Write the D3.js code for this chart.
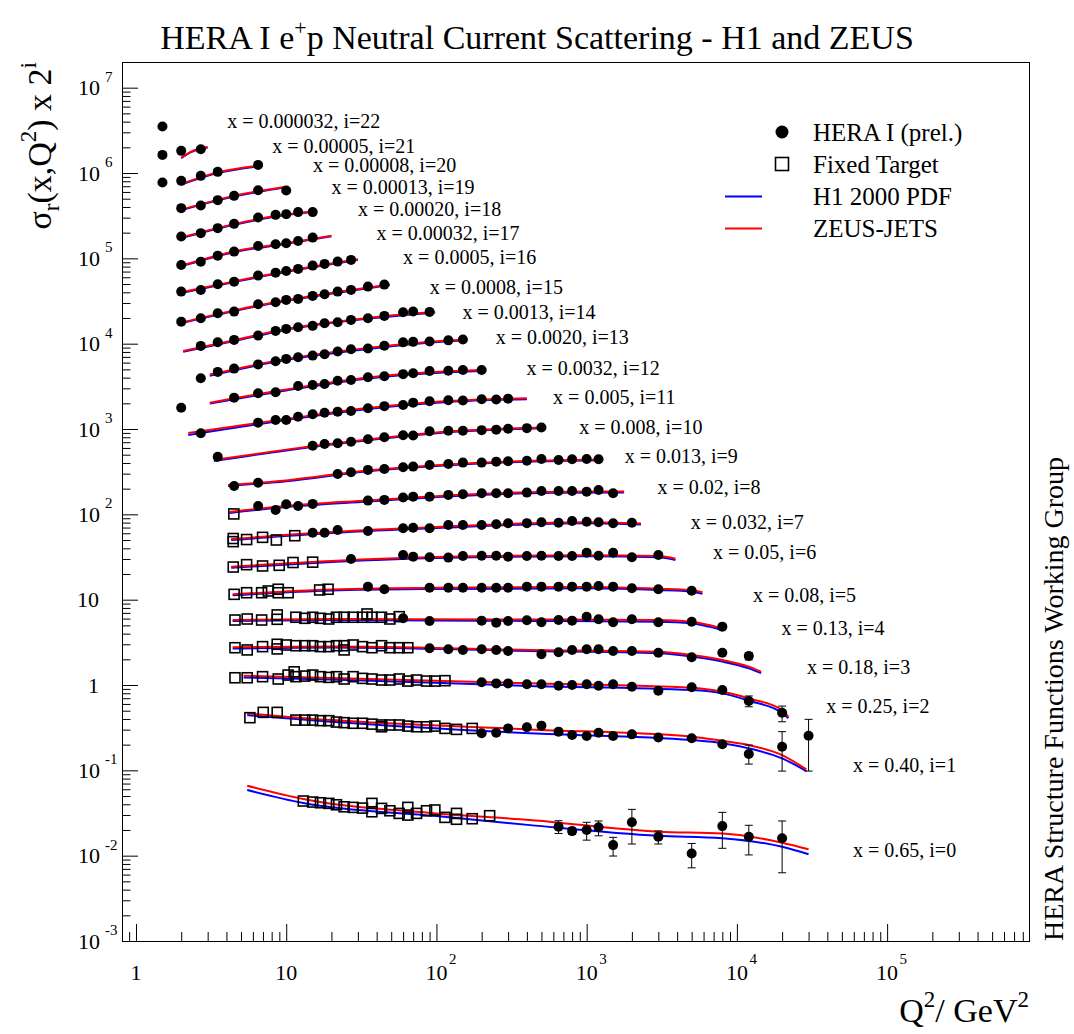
<!DOCTYPE html>
<html><head><meta charset="utf-8">
<script src="https://cdn.jsdelivr.net/npm/d3@7"></script>
<style>
body{margin:0;background:#fff}
svg{display:block}
text{font-family:"Liberation Serif","Times New Roman",serif;fill:#000}
</style>
</head><body>
<svg id="c" width="1074" height="1034"></svg>
<script>
// ---------------- data ----------------
const binX = ["0.65","0.40","0.25","0.18","0.13","0.08","0.05","0.032","0.02","0.013","0.008","0.005","0.0032","0.0020","0.0013","0.0008","0.0005","0.00032","0.00020","0.00013","0.00008","0.00005","0.000032"];

// HERA I (prel.) points per bin i: [Q2, sigma_r]  (plotted as sigma_r * 2^i)
const heraPts = [
 [[650,0.0218],[800,0.0194],[1000,0.0200],[1200,0.0215],[1500,0.0133],[2000,0.0246],[3000,0.0167],[5000,0.0106],[8000,0.0222],[12000,0.0167],[20000,0.0160]],
 [[200,0.136],[250,0.138],[300,0.155],[400,0.160],[500,0.167],[650,0.142],[800,0.130],[1000,0.126],[1200,0.138],[1500,0.126],[2000,0.132],[3000,0.121],[5000,0.119],[8000,0.101],[12000,0.0776],[20000,0.0945],[30000,0.127]],
 [[200,0.269],[250,0.261],[300,0.261],[400,0.255],[500,0.255],[650,0.245],[800,0.250],[1000,0.255],[1200,0.245],[1500,0.255],[2000,0.238],[3000,0.214],[5000,0.235],[8000,0.218],[12000,0.162],[20000,0.118]],
 [[90,0.337],[120,0.328],[150,0.322],[200,0.328],[250,0.322],[300,0.313],[500,0.286],[650,0.303],[800,0.322],[1000,0.328],[1200,0.328],[1500,0.313],[2000,0.313],[3000,0.299],[5000,0.264],[8000,0.299],[12000,0.274]],
 [[60,0.378],[90,0.352],[200,0.355],[250,0.336],[300,0.352],[400,0.358],[500,0.340],[650,0.361],[800,0.355],[1000,0.395],[1200,0.368],[1500,0.340],[2000,0.368],[3000,0.340],[5000,0.345],[8000,0.302]],
 [[35,0.444],[45,0.414],[90,0.432],[120,0.432],[150,0.432],[200,0.432],[250,0.432],[300,0.432],[400,0.444],[500,0.444],[650,0.444],[800,0.444],[1000,0.444],[1200,0.452],[1500,0.444],[2000,0.425],[3000,0.414],[5000,0.398]],
 [[27,0.468],[60,0.522],[70,0.499],[90,0.490],[120,0.486],[150,0.508],[200,0.512],[250,0.512],[300,0.499],[400,0.508],[500,0.512],[650,0.508],[800,0.508],[1000,0.555],[1200,0.512],[1500,0.555],[2000,0.490],[3000,0.522]],
 [[15,0.476],[18,0.476],[22,0.512],[35,0.498],[60,0.536],[70,0.545],[90,0.536],[120,0.586],[150,0.586],[200,0.586],[250,0.597],[300,0.614],[400,0.616],[500,0.630],[650,0.624],[800,0.653],[1000,0.641],[1200,0.630],[1500,0.614],[2000,0.624]],
 [[6.5,0.490],[8.5,0.440],[10,0.513],[12,0.490],[15,0.518],[35,0.566],[45,0.577],[60,0.614],[70,0.630],[90,0.630],[120,0.660],[150,0.673],[200,0.691],[250,0.691],[300,0.691],[400,0.702],[500,0.735],[650,0.735],[800,0.735],[1000,0.721],[1200,0.755],[1500,0.691]],
 [[4.5,0.420],[6.5,0.459],[22,0.581],[27,0.609],[35,0.648],[45,0.665],[60,0.696],[70,0.708],[90,0.741],[120,0.761],[150,0.789],[200,0.789],[250,0.810],[300,0.819],[400,0.830],[500,0.871],[650,0.848],[800,0.864],[1000,0.871],[1200,0.864]],
 [[3.5,0.463],[15,0.623],[18,0.653],[22,0.665],[27,0.694],[35,0.741],[45,0.782],[60,0.825],[70,0.821],[90,0.920],[120,0.932],[150,0.932],[200,0.947],[250,0.960],[300,0.984],[400,1.000],[500,1.019]],
 [[2.7,0.435],[6.5,0.580],[8.5,0.623],[10,0.623],[12,0.681],[15,0.727],[18,0.759],[22,0.780],[27,0.795],[35,0.855],[45,0.905],[60,0.935],[70,0.995],[90,1.033],[120,1.061],[150,1.055],[200,1.090],[250,1.084],[300,1.108]],
 [[2,0.434],[4.5,0.569],[6.5,0.641],[8.5,0.658],[12,0.780],[15,0.801],[18,0.823],[22,0.900],[27,0.917],[35,0.987],[45,1.014],[60,1.073],[70,1.099],[90,1.169],[120,1.176],[150,1.201],[200,1.201]],
 [[2.7,0.481],[3.5,0.570],[4.5,0.623],[6.5,0.698],[8.5,0.761],[10,0.810],[12,0.848],[15,0.885],[18,0.920],[22,0.987],[27,1.052],[35,1.070],[45,1.157],[60,1.265],[70,1.282],[90,1.292],[120,1.335],[150,1.364]],
 [[2.7,0.575],[3.5,0.635],[4.5,0.676],[6.5,0.759],[8.5,0.862],[10,0.910],[12,0.953],[15,0.987],[18,1.061],[22,1.090],[27,1.160],[35,1.215],[45,1.292],[60,1.428],[70,1.451],[90,1.439]],
 [[2,0.553],[2.7,0.607],[3.5,0.694],[4.5,0.725],[6.5,0.885],[8.5,0.935],[10,0.995],[12,1.022],[15,1.108],[18,1.160],[22,1.244],[27,1.303],[35,1.424],[45,1.503]],
 [[2,0.622],[2.7,0.651],[3.5,0.759],[4.5,0.814],[6.5,0.958],[8.5,1.038],[10,1.087],[12,1.148],[15,1.254],[18,1.314],[22,1.397],[27,1.463]],
 [[2,0.639],[2.7,0.698],[3.5,0.821],[4.5,0.915],[6.5,1.067],[8.5,1.117],[10,1.148],[12,1.221],[15,1.335]],
 [[2,0.687],[2.7,0.753],[3.5,0.862],[4.5,0.968],[6.5,1.148],[8.5,1.234],[10,1.258],[12,1.328],[15,1.328]],
 [[2,0.739],[2.7,0.793],[3.5,0.917],[4.5,1.030],[6.5,1.200],[10,1.190]],
 [[1.5,0.737],[2,0.772],[2.7,0.883],[3.5,0.984],[6.5,1.188]],
 [[1.5,0.778],[2,0.867],[2.7,0.907]],
 [[1.5,0.835]]
];

// HERA error bars: [bin, Q2, low, high]
const heraErr = [
 [0,650,0.0182,0.0257],[0,800,0.0178,0.0211],[0,1000,0.0152,0.0246],[0,1200,0.0171,0.0255],
 [0,1500,0.0099,0.0164],[0,2000,0.0137,0.0349],[0,3000,0.0137,0.0195],[0,5000,0.0072,0.0139],
 [0,8000,0.0122,0.0322],[0,12000,0.0102,0.0227],[0,20000,0.0063,0.0255],
 [1,12000,0.0592,0.0989],[1,20000,0.049,0.142],[1,30000,0.049,0.198],
 [2,12000,0.139,0.186],[2,20000,0.0927,0.1415],
 [3,12000,0.246,0.299]
];

// Fixed target points per bin: [Q2, sigma_r]
const ftPts = [
 [[13.0,0.0437],[15.0,0.0425],[16.9,0.0417],[19.2,0.0410],[21.6,0.0395],[24.3,0.0374],[27.9,0.0368],[32.2,0.0361],[37.2,0.0410],[37.2,0.0327],[43.1,0.0358],[49.0,0.0336],[56.5,0.0313],[64.5,0.0368],[64.5,0.0299],[73.7,0.0313],[85.9,0.0336],[97.6,0.0343],[114,0.0281],[136,0.0313],[136,0.0267],[173,0.0271],[226,0.0294]],
 [[5.73,0.207],[7.03,0.239],[8.71,0.239],[11.6,0.194],[13.3,0.194],[15.0,0.194],[16.9,0.191],[19.2,0.191],[21.6,0.184],[24.3,0.181],[27.9,0.178],[32.2,0.178],[37.2,0.174],[43.1,0.170],[43.1,0.162],[49.0,0.170],[56.5,0.170],[64.5,0.165],[73.7,0.162],[85.9,0.162],[97.6,0.165],[114,0.155],[136,0.151],[173,0.155]],
 [[4.56,0.304],[5.5,0.304],[6.96,0.313],[8.85,0.294],[10.3,0.327],[11.3,0.357],[11.6,0.313],[13.3,0.318],[15.0,0.327],[16.9,0.313],[19.2,0.307],[21.6,0.313],[24.3,0.294],[27.9,0.313],[32.2,0.299],[37.2,0.294],[43.1,0.286],[49.0,0.286],[56.5,0.294],[64.5,0.278],[73.7,0.286],[85.9,0.278],[97.6,0.278],[114,0.281]],
 [[4.56,0.342],[5.5,0.322],[6.96,0.352],[8.71,0.375],[8.71,0.331],[10.0,0.368],[11.6,0.361],[13.3,0.361],[15.0,0.361],[16.9,0.352],[19.2,0.352],[21.6,0.361],[24.3,0.361],[24.3,0.322],[27.9,0.368],[32.2,0.352],[37.2,0.342],[43.1,0.361],[49.0,0.342],[56.5,0.342],[64.5,0.342]],
 [[4.56,0.361],[5.5,0.371],[6.86,0.361],[8.71,0.414],[8.71,0.368],[11.6,0.389],[13.3,0.378],[15.0,0.389],[16.9,0.378],[19.2,0.371],[21.6,0.389],[24.3,0.389],[27.9,0.389],[32.2,0.389],[34.5,0.425],[37.2,0.389],[43.1,0.389],[49.0,0.371],[56.5,0.395]],
 [[4.5,0.361],[5.45,0.377],[6.86,0.377],[7.6,0.395],[8.85,0.414],[8.85,0.377],[10.3,0.377],[16.7,0.406],[19.0,0.414]],
 [[4.44,0.377],[5.45,0.402],[6.96,0.388],[8.98,0.395],[11.1,0.426],[15.0,0.430]],
 [[4.44,0.407],[4.44,0.374],[5.45,0.396],[6.96,0.420],[8.6,0.391],[11.4,0.439]],
 [[4.48,0.395]],
 [],[],[],[],[],[],[],[],[],[],[],[],[],[]
];

// Theory curves per bin: [Q2, sigma_r]
const h1Curve = [
 [[5.5,0.0588],[13,0.0414],[100,0.0291],[420,0.0228],[3000,0.0171],[8000,0.0160],[20000,0.0127],[30000,0.0104]],
 [[5.5,0.222],[20,0.186],[420,0.136],[5000,0.113],[8000,0.104],[12000,0.0905],[20000,0.0691],[29000,0.049]],
 [[5.2,0.307],[20,0.291],[420,0.244],[5000,0.218],[8000,0.1995],[12000,0.1635],[20000,0.118],[22000,0.102]],
 [[4.4,0.335],[20,0.344],[420,0.313],[3000,0.294],[5000,0.269],[8000,0.235],[12000,0.196],[14500,0.172]],
 [[4.4,0.352],[20,0.36],[400,0.352],[3000,0.345],[5000,0.331],[6500,0.302],[7900,0.276]],
 [[4.4,0.352],[20,0.40],[100,0.417],[1000,0.425],[3000,0.406],[5000,0.388],[5900,0.367]],
 [[4.3,0.370],[20,0.432],[100,0.481],[1000,0.504],[3000,0.490],[3900,0.456]],
 [[4.3,0.391],[20,0.472],[100,0.540],[1000,0.614],[2300,0.594]],
 [[4.2,0.406],[10,0.477],[35,0.553],[120,0.633],[500,0.696],[1775,0.702]],
 [[4.1,0.420],[10,0.477],[35,0.626],[120,0.735],[400,0.808],[1250,0.841]],
 [[3.3,0.412],[10,0.548],[35,0.721],[120,0.895],[520,0.997]],
 [[2.23,0.416],[10,0.623],[35,0.839],[120,1.014],[400,1.093]],
 [[3.1,0.484],[10,0.69],[35,0.955],[120,1.13],[210,1.17]],
 [[3.1,0.515],[10,0.79],[35,1.06],[120,1.30],[160,1.34]],
 [[2.06,0.49],[4.5,0.655],[10,0.89],[35,1.20],[98,1.42]],
 [[2,0.53],[4.5,0.735],[10,0.97],[25,1.25],[49,1.49]],
 [[2,0.60],[4.5,0.805],[10,1.06],[30,1.47]],
 [[2,0.615],[4.5,0.90],[10,1.13],[20,1.38]],
 [[2,0.66],[4.5,0.945],[10,1.23],[16,1.34]],
 [[2,0.70],[4.5,1.01],[9.9,1.30]],
 [[2,0.70],[3.5,0.955],[6.5,1.14]],
 [[2,0.71],[2.3,0.83],[3.0,0.95]],
 []
];
const zeusCurve = [
 [[5.5,0.0660],[13,0.0461],[100,0.0313],[420,0.0262],[3000,0.0191],[8000,0.0182],[20000,0.0142],[30000,0.0119]],
 [[5.5,0.233],[20,0.194],[420,0.151],[5000,0.124],[8000,0.111],[12000,0.0989],[20000,0.0755],[29000,0.0513]],
 [[5.2,0.321],[20,0.302],[420,0.2615],[5000,0.232],[8000,0.208],[12000,0.174],[20000,0.127],[22000,0.106]],
 [[4.4,0.346],[20,0.353],[420,0.322],[3000,0.307],[5000,0.281],[8000,0.246],[12000,0.205],[14500,0.179]],
 [[4.4,0.361],[20,0.37],[400,0.366],[3000,0.361],[5000,0.345],[6500,0.316],[7900,0.289]],
 [[4.4,0.361],[20,0.411],[100,0.432],[1000,0.440],[3000,0.420],[5000,0.403],[5900,0.381]],
 [[4.3,0.380],[20,0.444],[100,0.494],[1000,0.518],[3000,0.508],[3900,0.472]],
 [[4.3,0.402],[20,0.485],[100,0.555],[1000,0.630],[2300,0.610]],
 [[4.2,0.417],[10,0.490],[35,0.569],[120,0.651],[500,0.716],[1775,0.725]],
 [[4.1,0.432],[10,0.488],[35,0.639],[120,0.751],[400,0.826],[1250,0.860]],
 [[3.3,0.424],[10,0.560],[35,0.737],[120,0.915],[520,1.020]],
 [[2.23,0.439],[10,0.641],[35,0.862],[120,1.041],[400,1.120]],
 [[3.1,0.497],[10,0.71],[35,0.981],[120,1.16],[210,1.201]],
 [[3.1,0.53],[10,0.81],[35,1.09],[120,1.33],[160,1.37]],
 [[2.06,0.50],[4.5,0.67],[10,0.905],[35,1.22],[98,1.44]],
 [[2,0.54],[4.5,0.75],[10,0.985],[25,1.27],[49,1.51]],
 [[2,0.61],[4.5,0.82],[10,1.08],[30,1.49]],
 [[2,0.625],[4.5,0.92],[10,1.15],[20,1.40]],
 [[2,0.67],[4.5,0.96],[10,1.25],[16,1.36]],
 [[2,0.71],[4.5,1.03],[9.9,1.32]],
 [[2,0.71],[3.5,0.97],[6.5,1.16]],
 [[2,0.72],[2.3,0.84],[3.0,0.96]],
 []
];

// bin label anchors in data coordinates: [Q2, plotted value]
const labelAnchor = [
 [59300,0.0116],[59300,0.115],[39400,0.567],[29300,1.61],[19800,4.62],[12800,11.4],[6940,35.6],[4930,80.8],
 [2960,210],[1790,474],[893,1060],[598,2350],[398,5160],[248,1.19e4],[149,2.36e4],[90.3,4.60e4],
 [60.0,1.03e5],[39.9,1.99e5],[30.1,3.80e5],[20.0,6.84e5],[15.1,1.22e6],[8.07,2.08e6],[4.05,4.02e6]
];

const xTicks = [1,10,100,1e3,1e4,1e5];
const xTickLabels = [["1",""],["10",""],["10","2"],["10","3"],["10","4"],["10","5"]];
const yTicks = [1e-3,1e-2,1e-1,1,10,1e2,1e3,1e4,1e5,1e6,1e7];
const yTickLabels = [["10","-3"],["10","-2"],["10","-1"],["1",""],["10",""],["10","2"],["10","3"],["10","4"],["10","5"],["10","6"],["10","7"]];
const legendItems = ["HERA I (prel.)","Fixed Target","H1 2000 PDF","ZEUS-JETS"];

// ---------------- drawing ----------------
const W = 1074, H = 1034;
const L = 122, R = 1029, T = 62, B = 941;
const svg = d3.select("#c");
svg.append("rect").attr("width",W).attr("height",H).attr("fill","#fff");

const x = d3.scaleLog().domain([0.807, 8.8e5]).range([L, R]);
const y = d3.scaleLog().domain([1e-3, 2.0e7]).range([B, T]);

// minor tick values
const xMinor = [], yMinor = [];
for (let e = -1; e <= 5; e++) for (let k = 2; k <= 9; k++) { const v = k * Math.pow(10, e); if (v > 0.807 && v < 8.8e5) xMinor.push(v); }
for (let e = -3; e <= 7; e++) for (let k = 2; k <= 9; k++) { const v = k * Math.pow(10, e); if (v > 1e-3 && v < 1.99e7) yMinor.push(v); }

function axisStyle(g){ g.select(".domain").remove(); g.selectAll("line").attr("stroke","#000").attr("stroke-width",1); g.selectAll("text").remove(); }
svg.append("g").attr("transform",`translate(0,${B})`).call(d3.axisBottom(x).tickValues(xTicks).tickSize(-17).tickFormat("")).call(axisStyle);
svg.append("g").attr("transform",`translate(0,${B})`).call(d3.axisBottom(x).tickValues(xMinor).tickSize(-9).tickFormat("")).call(axisStyle);
svg.append("g").attr("transform",`translate(${L},0)`).call(d3.axisLeft(y).tickValues(yTicks).tickSize(-16).tickFormat("")).call(axisStyle);
svg.append("g").attr("transform",`translate(${L},0)`).call(d3.axisLeft(y).tickValues(yMinor).tickSize(-8.5).tickFormat("")).call(axisStyle);

// frame
svg.append("rect").attr("x",L+0.5).attr("y",T+0.5).attr("width",R-L).attr("height",B-T)
  .attr("fill","none").attr("stroke","#000").attr("stroke-width",1);

// tick labels
const FS = 22, FE = 15;
xTicks.forEach((v,k)=>{
  const [b,e] = xTickLabels[k];
  const px = x(v);
  svg.append("text").attr("x",px).attr("y",980).attr("text-anchor","middle").attr("font-size",FS).text(b);
  if (e) svg.append("text").attr("x",px+12.5).attr("y",964).attr("font-size",FE).text(e);
});
yTicks.forEach((v,k)=>{
  const [b,e] = yTickLabels[k];
  const py = y(v);
  if (e) {
    svg.append("text").attr("x",100).attr("y",py+7.5).attr("text-anchor","end").attr("font-size",FS).text(b);
    svg.append("text").attr("x",105).attr("y",py-6).attr("font-size",FE).text(e);
  } else {
    svg.append("text").attr("x",99).attr("y",py+7.5).attr("text-anchor","end").attr("font-size",FS).text(b);
  }
});

// curves
const line = d3.line().x(d=>x(d[0])).y(d=>y(d[1])).curve(d3.curveMonotoneX);
const scaled = (arr,i)=>arr.map(([q,s])=>[q, s*Math.pow(2,i)]);
const gCurves = svg.append("g").attr("fill","none").attr("stroke-width",2);
h1Curve.forEach((c,i)=>{ if(c.length) gCurves.append("path").attr("d",line(scaled(c,i))).attr("stroke","#0000ff"); });
zeusCurve.forEach((c,i)=>{ if(c.length) gCurves.append("path").attr("d",line(scaled(c,i))).attr("stroke","#ff0000"); });

// fixed target squares
const gFT = svg.append("g");
ftPts.forEach((pts,i)=>{
  gFT.selectAll(null).data(scaled(pts,i)).enter().append("rect")
    .attr("x",d=>x(d[0])-5).attr("y",d=>y(d[1])-5).attr("width",10).attr("height",10)
    .attr("fill","none").attr("stroke","#000").attr("stroke-width",1.6);
});

// error bars
const gErr = svg.append("g").attr("stroke","#000").attr("stroke-width",1);
heraErr.forEach(([i,q,lo,hi])=>{
  const f = Math.pow(2,i), px = x(q);
  gErr.append("line").attr("x1",px).attr("x2",px).attr("y1",y(lo*f)).attr("y2",y(hi*f));
  gErr.append("line").attr("x1",px-4).attr("x2",px+4).attr("y1",y(lo*f)).attr("y2",y(lo*f));
  gErr.append("line").attr("x1",px-4).attr("x2",px+4).attr("y1",y(hi*f)).attr("y2",y(hi*f));
});

// HERA points
const gH = svg.append("g");
heraPts.forEach((pts,i)=>{
  gH.selectAll(null).data(scaled(pts,i)).enter().append("circle")
    .attr("cx",d=>x(d[0])).attr("cy",d=>y(d[1])).attr("r",5).attr("fill","#000");
});

// bin labels
labelAnchor.forEach(([q,v],i)=>{
  svg.append("text").attr("x",x(q)).attr("y",y(v)+6.8).attr("font-size",20)
    .text(`x = ${binX[i]}, i=${i}`);
});

// legend
const legY = [132,164,196.5,228.5];
svg.append("circle").attr("cx",782).attr("cy",legY[0]).attr("r",6.5).attr("fill","#000");
svg.append("rect").attr("x",775.5).attr("y",legY[1]-6.5).attr("width",13).attr("height",13).attr("fill","none").attr("stroke","#000").attr("stroke-width",1.6);
svg.append("line").attr("x1",725).attr("x2",762).attr("y1",legY[2]).attr("y2",legY[2]).attr("stroke","#0000ff").attr("stroke-width",2);
svg.append("line").attr("x1",725).attr("x2",762).attr("y1",legY[3]).attr("y2",legY[3]).attr("stroke","#ff0000").attr("stroke-width",2);
legendItems.forEach((t,k)=>{
  svg.append("text").attr("x",813).attr("y",legY[k]+8.5).attr("font-size",25).text(t);
});

// title
const title = svg.append("text").attr("x",537).attr("y",49).attr("text-anchor","middle").attr("font-size",34);
title.append("tspan").text("HERA I e");
title.append("tspan").attr("dy",-14).attr("font-size",22).text("+");
title.append("tspan").attr("dy",14).text("p Neutral Current Scattering - H1 and ZEUS");

// y title
const yt = svg.append("text").attr("transform",`translate(51,${T}) rotate(-90)`).attr("text-anchor","end").attr("font-size",34);
yt.append("tspan").text("σ");
yt.append("tspan").attr("dy",8).attr("font-size",23).text("r");
yt.append("tspan").attr("dy",-8).text("(x,Q");
yt.append("tspan").attr("dy",-15).attr("font-size",23).text("2");
yt.append("tspan").attr("dy",15).text(") x 2");
yt.append("tspan").attr("dy",-15).attr("font-size",23).text("i");

// x title
const xt = svg.append("text").attr("x",R).attr("y",1022).attr("text-anchor","end").attr("font-size",34);
xt.append("tspan").text("Q");
xt.append("tspan").attr("dy",-15).attr("font-size",23).text("2");
xt.append("tspan").attr("dy",15).text("/ GeV");
xt.append("tspan").attr("dy",-15).attr("font-size",23).text("2");

// side note
svg.append("text").attr("transform",`translate(1063,${B}) rotate(-90)`).attr("font-size",28)
  .text("HERA Structure Functions Working Group");
</script>
</body></html>
